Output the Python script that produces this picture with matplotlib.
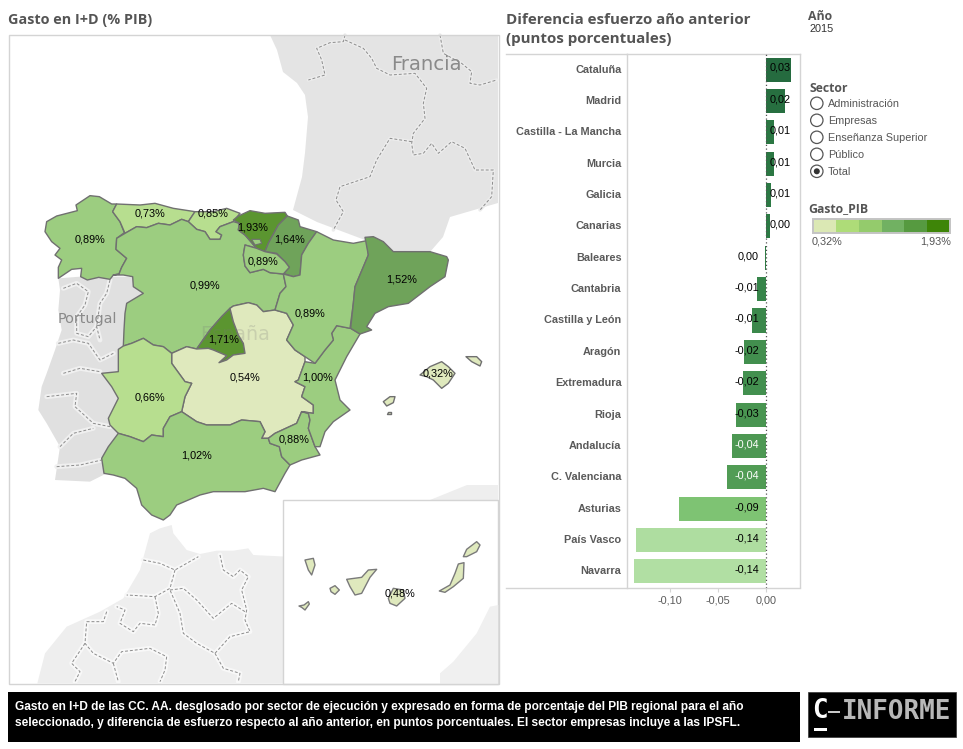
import matplotlib
matplotlib.use("Agg")
import matplotlib.pyplot as plt
from matplotlib.colors import BoundaryNorm, LinearSegmentedColormap, ListedColormap, Normalize
from matplotlib.patches import Circle, Rectangle
from matplotlib.transforms import ScaledTranslation

# bar chart data
bar_names = ["Cataluña", "Madrid", "Castilla - La Mancha", "Murcia", "Galicia", "Canarias", "Baleares",
             "Cantabria", "Castilla y León", "Aragón", "Extremadura", "Rioja", "Andalucía",
             "C. Valenciana", "Asturias", "País Vasco", "Navarra"]
bar_values = [0.026, 0.0198, 0.0083, 0.0083, 0.0052, 0.0042, -0.001, -0.0094, -0.0146, -0.0229, -0.024,
              -0.031, -0.0354, -0.0406, -0.0906, -0.1354, -0.1375]
bar_labels = ["0,03", "0,02", "0,01", "0,01", "0,01", "0,00", "0,00", "-0,01", "-0,01", "-0,02", "-0,02",
              "-0,03", "-0,04", "-0,04", "-0,09", "-0,14", "-0,14"]
bar_ticks = [-0.10, -0.05, 0.0]
bar_tick_labels = ["-0,10", "-0,05", "0,00"]
bar_stops = [-0.14, -0.09, -0.04, 0.0, 0.026]
bar_stop_colors = ["#b3e0a5", "#7dc372", "#519c55", "#2e7d45", "#256b3f"]

# map data: value per region
region_values = {"Galicia": 0.89, "Asturias": 0.73, "Cantabria": 0.85, "País Vasco": 1.93, "Navarra": 1.64,
                 "Rioja": 0.89, "Castilla y León": 0.99, "Cataluña": 1.52, "Aragón": 0.89, "Madrid": 1.71,
                 "Castilla - La Mancha": 0.54, "C. Valenciana": 1.00, "Extremadura": 0.66, "Murcia": 0.88,
                 "Andalucía": 1.02, "Baleares": 0.32, "Canarias": 0.48}
class_edges = [0.32, 0.588, 0.857, 1.125, 1.392, 1.66, 1.93]
map_colors = ["#dfe9bd", "#b7de8f", "#9ccd80", "#85bb70", "#6fa35a", "#5b9530"]
legend_colors = ["#dbe8b4", "#aedc78", "#94cb6c", "#71b162", "#569a40", "#3e8508"]
sectors = ["Administración", "Empresas", "Enseñanza Superior", "Público", "Total"]
footer = ["Gasto en I+D de las CC. AA. desglosado por sector de ejecución y expresado en forma de porcentaje del PIB regional para el año",
          "seleccionado, y diferencia de esfuerzo respecto al año anterior, en puntos porcentuales. El sector empresas incluye a las IPSFL."]

# region outlines at 3x from a crop starting at (0, 180)
outlines = {
    "Galicia": [[(135,155),(140,125),(170,108),(232,92),(228,75),(270,47),(298,50),(335,72),(350,72),(338,95),(360,125),(373,158),(350,175),(348,208),(380,235),(365,262),(357,282),(340,285),(330,298),(296,292),(262,300),(242,290),(245,265),(215,268),(175,295),(175,262),(185,240),(165,225),(180,205),(155,185)]],
    "Asturias": [[(350,72),(420,75),(465,70),(520,85),(585,95),(565,125),(545,118),(510,135),(475,130),(440,143),(410,140),(375,160),(360,125),(338,95)]],
    "Cantabria": [[(585,95),(640,95),(680,85),(720,100),(700,125),(660,140),(648,155),(665,165),(660,178),(630,178),(615,155),(590,148),(565,125)]],
    "Castilla y León": [[(375,160),(410,140),(440,143),(475,130),(510,135),(545,118),(565,125),(590,148),(615,155),(630,178),(660,178),(665,165),(648,155),(660,140),(700,125),(718,130),(715,150),(735,165),(770,205),(735,195),(730,225),(735,258),(750,278),(790,268),(810,278),(850,282),(858,320),(840,340),(825,390),(790,395),(770,375),(745,368),(700,378),(690,385),(665,410),(630,450),(590,507),(560,500),(515,520),(490,500),(460,495),(430,475),(395,490),(370,498),(372,450),(375,400),(380,370),(430,340),(400,320),(398,290),(370,285),(340,285),(357,282),(365,262),(380,235),(348,208),(350,175)]],
    "País Vasco": [[(700,120),(715,108),(750,92),(795,100),(855,97),(862,108),(835,135),(805,190),(795,215),(770,205),(735,165),(715,150),(718,130)]],
    "Navarra": [[(862,108),(895,120),(900,140),(950,155),(925,190),(905,225),(900,285),(880,290),(850,280),(868,262),(855,245),(830,220),(795,215),(805,190),(835,135)]],
    "Rioja": [[(735,195),(770,205),(795,215),(830,222),(855,245),(868,262),(850,282),(810,278),(790,268),(750,278),(735,258),(730,225)]],
    "Madrid": [[(690,385),(700,425),(715,465),(730,490),(735,520),(700,525),(680,540),(657,548),(680,527),(640,510),(625,505),(590,507),(630,450),(665,410)]],
    "Castilla - La Mancha": [[(515,520),(560,500),(590,507),(625,505),(640,510),(680,527),(657,548),(680,540),(700,525),(735,520),(730,490),(715,465),(700,425),(690,385),(700,378),(745,368),(770,375),(790,395),(825,390),(860,400),(880,435),(860,480),(885,510),(915,530),(915,545),(895,600),(885,605),(915,620),(905,650),(940,675),(940,700),(905,695),(890,730),(825,760),(805,775),(785,775),(795,755),(780,725),(725,720),(690,735),(620,735),(590,725),(545,695),(555,650),(575,610),(555,605),(515,550)]],
    "Extremadura": [[(305,580),(355,575),(355,508),(370,498),(395,490),(430,475),(460,495),(490,500),(515,520),(515,550),(555,605),(575,610),(555,650),(545,695),(510,710),(490,745),(490,770),(455,765),(430,785),(390,770),(355,760),(330,735),(325,715),(355,655),(335,620)]],
    "Andalucía": [[(305,835),(325,800),(355,760),(390,770),(430,785),(455,765),(490,770),(490,745),(510,710),(545,695),(590,725),(620,735),(690,735),(725,720),(780,725),(795,755),(785,775),(805,775),(810,790),(838,800),(845,830),(870,855),(855,880),(825,935),(790,925),(735,935),(640,935),(600,945),(565,960),(530,975),(510,1005),(490,1020),(455,1005),(425,975),(410,925),(375,895),(340,885),(312,880)]],
    "Murcia": [[(805,775),(825,760),(890,730),(905,695),(925,700),(930,720),(925,745),(945,800),(960,825),(905,840),(870,855),(845,830),(838,800),(810,790)]],
    "C. Valenciana": [[(1010,437),(1052,445),(1080,462),(1040,530),(1005,600),(1020,660),(1050,690),(1000,725),(975,755),(960,800),(945,800),(925,745),(930,720),(925,700),(905,695),(940,700),(940,675),(905,650),(915,620),(885,605),(895,600),(915,545),(945,550),(975,510),(1000,480),(995,460)]],
    "Aragón": [[(850,282),(880,290),(900,285),(905,225),(925,190),(950,155),(1000,180),(1060,190),(1100,182),(1105,225),(1065,320),(1060,370),(1050,445),(1010,437),(995,460),(1000,480),(975,510),(945,550),(915,530),(885,510),(860,480),(880,435),(860,400),(825,390),(840,340),(858,320)]],
    "Cataluña": [[(1095,172),(1120,170),(1150,185),(1180,215),(1220,215),(1290,215),(1340,230),(1345,240),(1335,290),(1290,320),(1225,370),(1165,380),(1125,400),(1100,440),(1115,450),(1080,462),(1052,445),(1060,370),(1065,320),(1105,225)]],
    "Baleares": [[(1260,585),(1290,560),(1325,545),(1345,560),(1365,580),(1345,610),(1325,625),(1300,600),(1280,590)],
                 [(1398,530),(1430,530),(1445,545),(1440,558),(1415,545)],
                 [(1150,665),(1170,650),(1185,650),(1180,668),(1160,678)],
                 [(1165,695),(1172,695),(1172,702),(1162,702)]],
}
trevino = [(755,178),(780,178),(785,190),(765,195)]
# Canary islands, 3x crop from (280, 490)
canarias_outlines = [[(75,210),(100,205),(105,225),(95,255),(85,240)],
                     [(200,268),(245,262),(265,240),(290,238),(270,262),(245,310),(225,315),(210,290)],
                     [(150,295),(165,287),(178,300),(165,313),(153,305)],
                     [(57,348),(72,345),(85,335),(88,342),(75,360),(65,352)],
                     [(325,325),(340,295),(370,300),(375,325),(350,348),(330,340)],
                     [(478,303),(510,285),(525,250),(535,222),(552,218),(550,265),(520,290),(495,307)],
                     [(550,200),(560,178),(590,155),(600,165),(590,185),(560,200)]]

# neighbouring land, with borders
france_land = [(270,35),(277,50),(283,72),(297,83),(305,95),(308,117),(305,153),(302,177),(293,210),(317,222),(365,240),(393,252),(430,252),(443,237),(450,217),(498,203),(498,35)]
portugal_land = [(175,295),(180,330),(175,390),(185,450),(165,510),(140,580),(125,620),(115,690),(140,730),(180,800),(165,900),(270,905),(320,880),(400,600),(430,340),(398,290),(240,290)]
morocco_land = [(112,610),(135,520),(200,440),(300,395),(370,355),(420,270),(450,160),(480,145),(515,135),(520,160),(560,210),(600,222),(650,212),(700,212),(745,205),(760,225),(860,230),(860,610)]
algeria_land = [(430,500),(467,485),(498,485),(498,500)]
inset_land = [(480,582),(480,550),(520,515),(590,430),(630,350),(655,345),(655,582)]
france_borders = [[(1035,15),(1030,35),(990,38),(950,55),(965,90),(975,135),(925,150)],
                  [(1035,30),(1090,55),(1115,85),(1130,115),(1170,135),(1245,130),(1280,175),(1270,220),(1275,265),(1240,310),(1235,340),(1240,375),(1270,370),(1295,340),(1315,370),(1355,335),(1395,355),(1425,420),(1480,420),(1475,500),(1440,540)],
                  [(1235,335),(1170,325),(1130,390),(1110,440),(1020,470),(1008,510),(1030,545),(1000,600)],
                  [(1320,15),(1330,70),(1385,100),(1415,125),(1410,160),(1440,165),(1490,150)]]
portugal_borders = [[(190,325),(230,310),(265,335),(255,375),(230,410),(230,460),(265,470),(290,440)],
                    [(330,300),(320,340),(300,370),(290,440),(300,480)],
                    [(175,490),(220,480),(265,490),(300,540),(340,520)],
                    [(190,580),(240,565),(300,575)],
                    [(140,650),(230,640),(225,680),(280,730),(330,740)],
                    [(180,800),(220,760),(280,745)],
                    [(170,860),(240,855),(305,840)]]
morocco_borders = [[(430,240),(480,250),(525,270),(595,230)],
                   [(525,270),(510,325),(465,350),(380,345)],
                   [(660,225),(670,270),(700,290),(720,270),(745,290),(725,330),(740,390),(735,420),(750,455),(690,470),(645,520),(590,490),(550,460),(540,400),(510,330)],
                   [(510,330),(550,325),(590,360),(640,415),(695,370),(735,395)],
                   [(465,350),(475,400),(465,435),(420,430),(400,455),(360,430),(375,390),(350,380)],
                   [(320,395),(310,425),(260,425),(255,490),(280,520),(340,550),(365,515),(450,505),(500,530),(495,570),(480,605)],
                   [(255,490),(215,550),(240,575),(225,605)],
                   [(340,550),(355,605)],
                   [(645,520),(670,565),(720,580),(715,605)]]

# where the region percentages sit, in page pixels
region_label_xy = {"Galicia": (90,239), "Asturias": (150,213), "Cantabria": (213,213), "País Vasco": (253,228),
                   "Navarra": (290,239), "Rioja": (263,261), "Castilla y León": (205,286), "Cataluña": (402,279),
                   "Aragón": (310,314), "Madrid": (224,339), "Castilla - La Mancha": (245,378),
                   "C. Valenciana": (318,378), "Extremadura": (150,398), "Murcia": (294,439),
                   "Andalucía": (197,456), "Baleares": (438,373), "Canarias": (400,594)}

TITLE_GREY = "#555555"
RULE_GREY = "#d4d4d4"
HEAD_FONT = "Open Sans"
W, H = 963, 749


def from_crop(points, x0=0, y0=180):
    # crops were read at 3x
    return [(x0 + x / 3, y0 + y / 3) for x, y in points]


def pct(v):
    return f"{v:.2f}%".replace(".", ",")


def draw_borders(ax, lines, x0, y0, halo, halo_lw):
    for line in lines:
        pts = from_crop(line, x0, y0)
        xs = [p[0] for p in pts]
        ys = [p[1] for p in pts]
        ax.plot(xs, ys, color=halo, lw=halo_lw, solid_capstyle="round", zorder=2)
        ax.plot(xs, ys, color="#8c8c8c", lw=0.7, dashes=(3, 2), zorder=2.1)


fig = plt.figure(figsize=(W / 100, H / 100), dpi=100, facecolor="white")
page = fig.add_axes([0, 0, 1, 1])
page.set_xlim(0, W)
page.set_ylim(H, 0)
page.axis("off")

# background land
page.fill(*zip(*france_land), color="#e4e4e4", lw=0, zorder=1)
page.fill(*zip(*from_crop(portugal_land)), color="#e0e0e0", lw=0, zorder=1)
page.fill(*zip(*from_crop(morocco_land, 0, 480)), color="#eeeeee", lw=0, zorder=1)
page.fill(*zip(*algeria_land), color="#eeeeee", lw=0, zorder=1)
draw_borders(page, france_borders, 0, 30, "#ececec", 2.5)
draw_borders(page, portugal_borders, 0, 180, "#f0f0f0", 3.5)
draw_borders(page, morocco_borders, 0, 480, "#f8f8f8", 3.5)

page.text(426, 64, "Francia", fontsize=14.1, color="#8a8a8a", ha="center", va="center", zorder=2.5, family="DejaVu Sans")
page.text(87, 319, "Portugal", fontsize=10.4, color="#8a8a8a", ha="center", va="center", zorder=2.5, family="DejaVu Sans")

# regions
region_cmap = ListedColormap(map_colors)
region_norm = BoundaryNorm(class_edges, len(map_colors))
for name, polys in outlines.items():
    for poly in polys:
        page.fill(*zip(*from_crop(poly)), facecolor=region_cmap(region_norm(region_values[name])),
                  edgecolor="#707070", lw=1.0, joinstyle="round", zorder=3)
page.fill(*zip(*from_crop(trevino)), facecolor=region_cmap(region_norm(region_values["Castilla y León"])),
          edgecolor="#707070", lw=0.8, zorder=3.1)
page.text(235, 335, "España", fontsize=13.8, color="#777777", alpha=0.22, ha="center", va="center", zorder=3.5, family="DejaVu Sans")

# Canary inset
page.add_patch(Rectangle((283, 500), 215, 184, facecolor="white", edgecolor=RULE_GREY, lw=1, zorder=4))
page.fill(*zip(*from_crop(inset_land, 280, 490)), color="#f0f0f0", lw=0, zorder=4.1)
for poly in canarias_outlines:
    page.fill(*zip(*from_crop(poly, 280, 490)), facecolor=region_cmap(region_norm(region_values["Canarias"])),
              edgecolor="#7a7a7a", lw=1.0, joinstyle="round", zorder=4.2)

# map frame
page.add_patch(Rectangle((8.5, 35), 490, 649, facecolor="none", edgecolor=RULE_GREY, lw=1, zorder=5))

for name, (x, y) in region_label_xy.items():
    page.text(x, y, pct(region_values[name]), fontsize=7.8, color="black", ha="center", va="center",
              family="Liberation Sans", zorder=6)

# titles
page.text(8, 20, "Gasto en I+D (% PIB)", fontsize=10.4, fontweight="bold", color=TITLE_GREY, va="center", family=HEAD_FONT)
page.text(506, 20, "Diferencia esfuerzo año anterior", fontsize=10.9, fontweight="bold", color=TITLE_GREY, va="center", family=HEAD_FONT)
page.text(506, 39, "(puntos porcentuales)", fontsize=10.9, fontweight="bold", color=TITLE_GREY, va="center", family=HEAD_FONT)

# bars
bar_left, bar_right, bar_top, bar_bottom = 626.7, 799.7, 53.5, 587.5
bars = fig.add_axes([bar_left / W, 1 - bar_bottom / H, (bar_right - bar_left) / W, (bar_bottom - bar_top) / H])
bar_cmap = LinearSegmentedColormap.from_list(
    "bars", [((s - bar_stops[0]) / (bar_stops[-1] - bar_stops[0]), c) for s, c in zip(bar_stops, bar_stop_colors)])
bar_norm = Normalize(bar_stops[0], bar_stops[-1])
rows = list(range(len(bar_names)))
bars.barh(rows, bar_values, height=0.765, color=[bar_cmap(bar_norm(v)) for v in bar_values], zorder=2)
bars.set_xlim(-0.1451, 0.0351)
bars.set_ylim(16.51, -0.51)
bars.axvline(0, color="#555555", lw=0.9, dashes=(1, 2), zorder=3)
bars.set_yticks(rows)
bars.set_yticklabels(bar_names, fontsize=7.8, fontweight="bold", color="#5a5a5a", family="Liberation Sans")
bars.tick_params(axis="y", length=0, pad=3.8)
nudge_up = ScaledTranslation(0, 1 / 100, fig.dpi_scale_trans)
for lab in bars.get_yticklabels():
    lab.set_transform(lab.get_transform() + nudge_up)
bars.set_xticks(bar_ticks)
bars.set_xticklabels(bar_tick_labels, fontsize=7.8, color="#5a5a5a", family="Liberation Sans")
bars.tick_params(axis="x", length=3, width=0.8, color=RULE_GREY, pad=2.5)
for side in ["left", "right", "top", "bottom"]:
    bars.spines[side].set_color(RULE_GREY)
    bars.spines[side].set_linewidth(1)
for i, (v, lab) in enumerate(zip(bar_values, bar_labels)):
    if v > 0:
        x, ha = 0.0042, "left"
    else:
        x, ha = -0.0075, "right"
    col = "white" if lab == "-0,04" else "black"
    bars.text(x, i - 0.05, lab, fontsize=7.8, color=col, ha=ha, va="center", family="Liberation Sans", zorder=4)
# rules running on under the labels
page.plot([506, bar_left], [bar_top, bar_top], color=RULE_GREY, lw=1)
page.plot([506, bar_left], [bar_bottom, bar_bottom], color=RULE_GREY, lw=1)

# right panel
page.text(808, 16, "Año", fontsize=8.8, fontweight="bold", color=TITLE_GREY, va="center", family=HEAD_FONT)
page.text(810, 29, "2015", fontsize=7.8, color="#333333", va="center", family="Liberation Sans")
page.text(809, 88, "Sector", fontsize=8.8, fontweight="bold", color=TITLE_GREY, va="center", family=HEAD_FONT)
for i, s in enumerate(sectors):
    y = 103.3 + 17 * i
    page.add_patch(Circle((816.8, y), 6.2, facecolor="white", edgecolor="#555555", lw=0.9))
    if s == "Total":
        page.add_patch(Circle((816.8, y), 3, facecolor="#333333", edgecolor="none"))
    page.text(828, y + 0.5, s, fontsize=7.8, color="#555555", va="center", family="Liberation Sans")
page.text(808, 209, "Gasto_PIB", fontsize=8.8, fontweight="bold", color=TITLE_GREY, va="center", family=HEAD_FONT)
leg_x0, leg_w = 813, 137
for i, c in enumerate(legend_colors):
    page.add_patch(Rectangle((leg_x0 + i * leg_w / len(legend_colors), 219), leg_w / len(legend_colors), 14,
                             facecolor=c, edgecolor="none"))
page.add_patch(Rectangle((leg_x0, 219), leg_w, 14, facecolor="none", edgecolor="#c4c4c4", lw=1.4))
page.text(812, 242, pct(class_edges[0]), fontsize=7.8, color="#555555", va="center", family="Liberation Sans")
page.text(951, 242, pct(class_edges[-1]), fontsize=7.8, color="#555555", va="center", ha="right", family="Liberation Sans")

# footer
page.add_patch(Rectangle((8, 692), 792, 50, facecolor="black", edgecolor="none"))
for y, line in zip([707, 723], footer):
    page.text(15, y, line, fontsize=8.6, fontweight="bold", color="white", va="center", family="Liberation Sans")

# logo
page.add_patch(Rectangle((808, 692), 148, 45, facecolor="black", edgecolor="#333333", lw=0.5))
page.text(820, 711, "C", fontsize=18.7, fontweight="bold", color="white", ha="center", va="center", family="DejaVu Sans Mono")
page.add_patch(Rectangle((814, 727.5), 13, 3, facecolor="white", edgecolor="none"))
page.add_patch(Rectangle((828, 710.5), 12, 2.5, facecolor="#c8c8c8", edgecolor="none"))
page.text(897, 712, "INFORME", fontsize=18.7, fontweight="bold", color="#b8b8b8", ha="center", va="center", family="DejaVu Sans Mono")

fig.savefig("out.png", dpi=100)
